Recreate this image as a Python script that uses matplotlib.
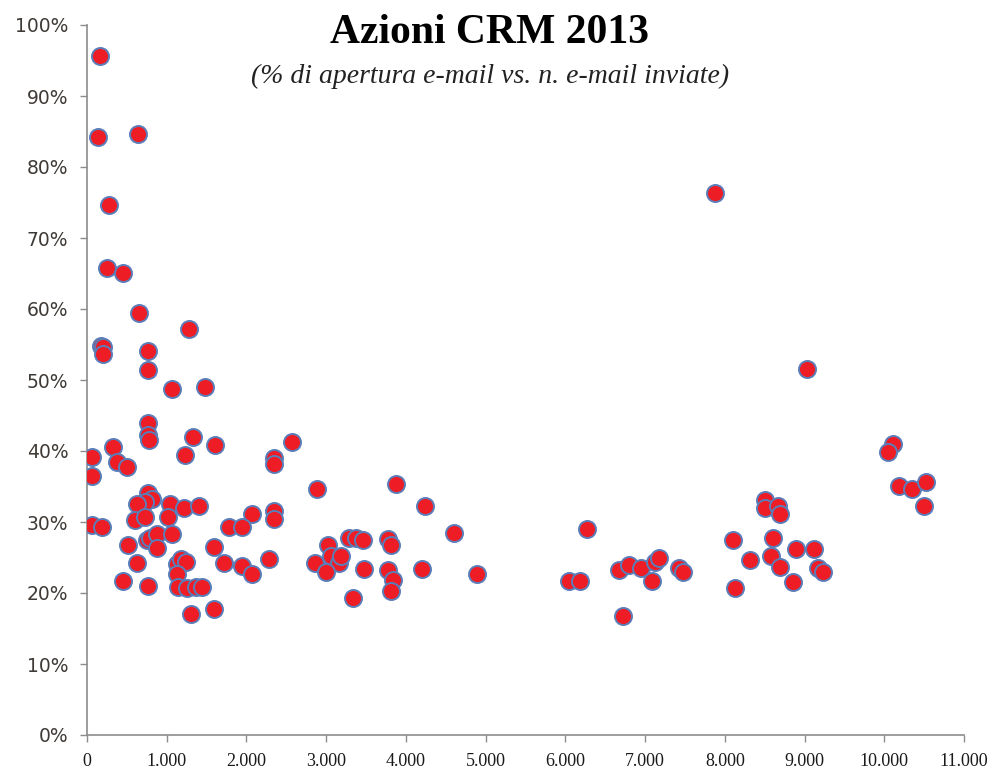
import matplotlib
matplotlib.use("Agg")
import matplotlib.pyplot as plt
from matplotlib.ticker import FuncFormatter, MultipleLocator

# e-mail inviate
emails = [163, 141, 634, 270, 246, 446, 651, 1280, 170, 195, 195, 763, 763, 1060, 1485,
          763, 763, 780, 1330, 1602, 330, 58, 380, 497, 1235, 58, 2344, 2344, 763, 810,
          726, 622, 1039, 1218, 1402, 2069, 2344, 2344, 601, 726, 1010, 58, 184, 1777, 1944,
          517, 747, 789, 880, 880, 1060, 1598, 630, 1123, 1185, 1248, 1123, 1715, 1944, 2069,
          2278, 447, 763, 1143, 1260, 1373, 1443, 1310, 1598, 2569, 2887, 3880, 4243, 4606, 3020,
          3292, 3375, 3458, 3771, 3817, 3062, 3167, 3188, 2866, 3000, 3470, 3771, 3834, 3817,
          4197, 4897, 3342, 6274, 6045, 6183, 6671, 6796, 6950, 7130, 7180, 7090, 7422, 7472,
          6725, 8101, 8131, 7881, 9032, 10113, 10041, 8507, 8507, 8673, 8694, 8602, 8310, 8577,
          8694, 8894, 9120, 8852, 9165, 9236, 10184, 10342, 10522, 10497]
# % di apertura
open_rate = [95.6, 84.2, 84.6, 74.6, 65.8, 65.1, 59.5, 57.2, 54.8, 54.7, 53.7, 54.1, 51.4, 48.8, 49.0,
             44.0, 42.3, 41.5, 42.0, 40.8, 40.5, 39.2, 38.4, 37.7, 39.4, 36.5, 39.0, 38.2, 34.1, 33.3,
             32.8, 32.6, 32.6, 32.0, 32.3, 31.1, 31.6, 30.4, 30.3, 30.7, 30.7, 29.6, 29.3, 29.3, 29.3,
             26.8, 27.4, 27.8, 28.3, 26.4, 28.3, 26.5, 24.2, 24.1, 24.8, 24.4, 22.7, 24.2, 23.8, 22.7,
             24.8, 21.7, 21.0, 20.9, 20.7, 20.9, 20.9, 17.1, 17.8, 41.2, 34.6, 35.4, 32.3, 28.5, 26.8,
             27.7, 27.7, 27.5, 27.6, 26.7, 25.2, 24.2, 25.2, 24.2, 22.9, 23.4, 23.2, 21.9, 20.3,
             23.4, 22.7, 19.3, 29.0, 21.7, 21.7, 23.2, 23.9, 23.5, 24.4, 25.0, 21.7, 23.5, 22.9,
             16.8, 27.5, 20.7, 76.3, 51.6, 41.0, 39.9, 33.1, 32.0, 32.3, 31.1, 27.8, 24.7, 25.2,
             23.7, 26.2, 26.2, 21.6, 23.5, 22.9, 35.1, 34.7, 35.6, 32.3]

title = "Azioni CRM 2013"
subtitle = "(% di apertura e-mail vs. n. e-mail inviate)"

fig = plt.figure(figsize=(10.01, 7.80), dpi=100)
ax = fig.add_axes([87/1001, 45/780, (964-87)/1001, (735-25)/780])

ax.scatter(emails, open_rate, s=150, c="#EE1C24", edgecolors="#5B7DB8", linewidths=1.4, zorder=3)

ax.set_xlim(0, 11000)
ax.set_ylim(0, 100)
ax.xaxis.set_major_locator(MultipleLocator(1000))
ax.yaxis.set_major_locator(MultipleLocator(10))
ax.xaxis.set_major_formatter(FuncFormatter(lambda v, p: f"{int(v):,}".replace(",", ".")))
ax.yaxis.set_major_formatter(FuncFormatter(lambda v, p: f"{int(v)}%"))

for s in ["top", "right"]:
    ax.spines[s].set_visible(False)
for s in ["left", "bottom"]:
    ax.spines[s].set_color("#8C8C8C")
    ax.spines[s].set_linewidth(1.2)

ax.tick_params(axis="both", direction="out", length=5, color="#8C8C8C", width=1)
ax.tick_params(axis="x", pad=8)
ax.tick_params(axis="y", pad=8.5)
for lab in ax.get_xticklabels():
    lab.set_fontfamily("Liberation Serif")
    lab.set_fontsize(13)
    lab.set_color("#1a1a1a")
for lab in ax.get_yticklabels():
    lab.set_fontfamily("DejaVu Sans")
    lab.set_fontsize(13.5)
    lab.set_color("#3f3a36")

fig.text(490/1001, 1 - 33/780, title, ha="center", va="center",
         fontfamily="Liberation Serif", fontweight="bold", fontsize=30, color="black")
fig.text(490/1001, 1 - 76/780, subtitle, ha="center", va="center",
         fontfamily="Liberation Serif", fontstyle="italic", fontsize=20, color="#222222")

fig.savefig("out.png", dpi=100, facecolor="white")
